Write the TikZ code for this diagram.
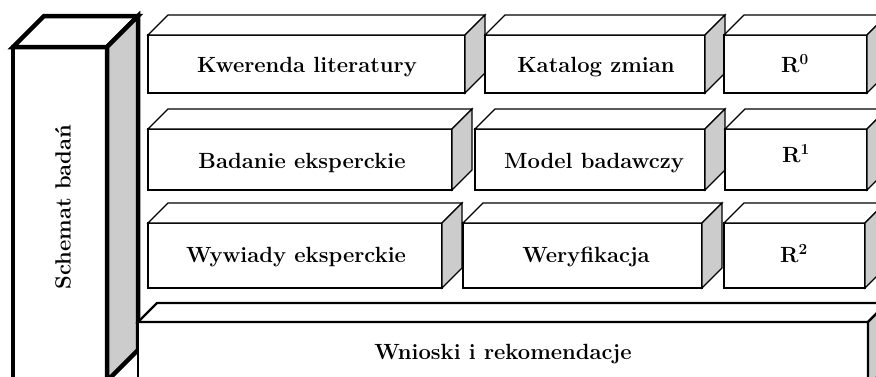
\documentclass[tikz,border=0pt]{standalone}

% prostopadloscian: styl, x1, y1 (gora przodu), x2, y2 (dol przodu), glebokosc
\newcommand{\kostka}[6]{%
  \filldraw[#1, fill=white] (#2,#3) rectangle (#4,#5);
  \filldraw[#1, fill=white] (#2,#3) -- ++(#6,-#6) -- ++(#4-#2,0) -- (#4,#3) -- cycle;
  \filldraw[#1, fill=bok] (#4,#3) -- ++(#6,-#6) -- ++(0,#5-#3) -- (#4,#5) -- cycle;
}

\tikzset{
  ramka/.style={draw=black, line width=1.2pt},
  ramkaGruba/.style={draw=black, line width=2.4pt},
  ramkaBoczna/.style={draw=black, line width=4.5pt},
  napis/.style={font=\fontsize{22}{26}\selectfont\bfseries, anchor=base, inner sep=0pt}
}

\begin{document}
\begin{tikzpicture}[x=1pt,y=-1pt,line join=miter]

\definecolor{bok}{RGB}{204,204,204}

\clip (0,0) rectangle (876,376);

% kolumna boczna
\kostka{ramkaBoczna}{13}{47}{107}{381}{31}
\node[napis, anchor=center, rotate=90] (schemat) at (63,207) {Schemat badań};

% wiersz 1
\kostka{ramka}{148}{35}{465}{93}{20}
\kostka{ramka}{485}{35}{705}{93}{20}
\kostka{ramka}{724}{35}{867}{93}{20}
\node[napis] (kwerenda) at (307,72) {Kwerenda literatury};
\node[napis] (katalog) at (596,72) {Katalog zmian};
\node[napis] (r0) at (795,72) {R\textsuperscript{0}};

% wiersz 2
\kostka{ramka}{148}{129}{452}{190}{20}
\kostka{ramka}{475}{129}{705}{190}{20}
\kostka{ramka}{725}{129}{867}{190}{20}
\node[napis] (badanie) at (302,168) {Badanie eksperckie};
\node[napis] (model) at (594,168) {Model badawczy};
\node[napis] (r1) at (796,162) {R\textsuperscript{1}};

% wiersz 3
\kostka{ramka}{148}{223}{442}{288}{20}
\kostka{ramka}{463}{223}{702}{288}{20}
\kostka{ramka}{724}{223}{865}{288}{20}
\node[napis] (wywiady) at (296,262) {Wywiady eksperckie};
\node[napis] (weryfikacja) at (586,262) {Weryfikacja};
\node[napis] (r2) at (794,262) {R\textsuperscript{2}};

% podstawa
\kostka{ramkaGruba}{138}{322}{868}{386}{19}
\node[napis] (wnioski) at (503,359) {Wnioski i rekomendacje};

\end{tikzpicture}
\end{document}
